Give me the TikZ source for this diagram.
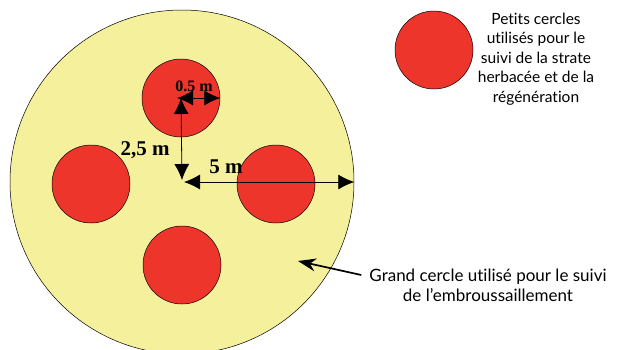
\documentclass[tikz,border=0pt]{standalone}
\usepackage{fontspec}
\setmainfont{Liberation Serif}
\newfontfamily\legendfont[Ligatures={NoCommon}]{Lato}
\usetikzlibrary{arrows.meta}
\definecolor{herbe}{HTML}{F5F09B}
\definecolor{placette}{HTML}{EE352C}

\begin{document}
\begin{tikzpicture}[x=1pt, y=-1pt,
  cercle/.style={circle, draw=black, line width=0.5pt, inner sep=0pt},
  petit/.style={cercle, fill=placette, minimum size=78pt},
  cote/.style={{Latex[length=16pt,width=15pt]}-{Latex[length=16pt,width=15pt]}, line width=0.8pt},
  fleche/.style={-{Stealth[length=18pt,width=13pt]}, line width=1.7pt},
  mesure/.style={font=\bfseries\fontsize{21}{21}\selectfont, inner sep=0pt},
  texte/.style={font=\legendfont\fontsize{15.5}{19.5}\selectfont, align=center, inner sep=0pt}]
  \useasboundingbox (0,0) rectangle (619,349);
  \clip (0,0) rectangle (619,349);
  % Grand cercle
  \node[cercle, fill=herbe, minimum size=344pt] (grand) at (182,182) {};
  % Petits cercles
  \node[petit] (nord)  at (181,98)  {};
  \node[petit] (ouest) at (91,184)  {};
  \node[petit] (est)   at (276,184) {};
  \node[petit] (sud)   at (182,265) {};
  % Cotes
  \coordinate (centre) at (182,180);
  \coordinate (droite) at (184,182);
  \draw[cote] (nord.center) -- (centre);
  \draw[cote] ([xshift=-4pt]nord.center) -- (nord.east);
  \draw[cote] (droite) -- (grand.east);
  \node[mesure, font=\bfseries\fontsize{16}{16}\selectfont] (rpetit) at (194,86) {0.5 m};
  \node[mesure] (rdist) at (145,150) {2,5 m};
  \node[mesure] (rgrand) at (226,167) {5 m};
  % Legende
  \node[petit] (legende) at (434,50) {};
  \node[texte] (legtxt) at (536,59) {Petits cercles\\utilisés pour le\\suivi de la strate\\herbacée et de la\\régénération};
  \node[texte, font=\legendfont\fontsize{17}{20}\selectfont] (grandtxt) at (488,285) {Grand cercle utilisé pour le suivi\\de l’embroussaillement};
  \coordinate (pointe) at (298,261);
  \draw[fleche] ([xshift=-8pt,yshift=10pt]grandtxt.west) -- (pointe);
\end{tikzpicture}
\end{document}
